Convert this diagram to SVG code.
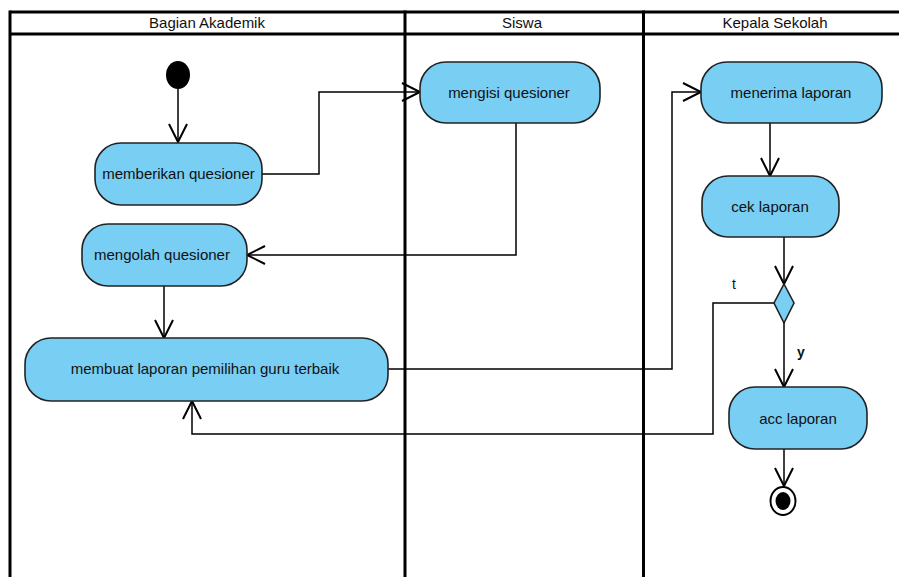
<svg xmlns="http://www.w3.org/2000/svg" width="899" height="577" viewBox="0 0 899 577">
<style>
.lane{stroke:#000;stroke-width:3;fill:none}
.hdr{font-family:"Liberation Sans",Arial,sans-serif;font-size:15px;fill:#111;text-anchor:middle}
.act{fill:#79CEF3;stroke:#222;stroke-width:1.6}
.lbl{font-family:"Liberation Sans",Arial,sans-serif;font-size:15px;fill:#111;text-anchor:middle}
.edge{stroke:#000;stroke-width:1.5;fill:none;marker-end:url(#arr)}
.glbl{font-family:"Liberation Sans",Arial,sans-serif;font-size:14px;fill:#111}
</style>
<defs>
<marker id="arr" markerUnits="userSpaceOnUse" markerWidth="24" markerHeight="24" refX="20" refY="12" orient="auto">
<path d="M2,3 L20,12 L2,21" fill="none" stroke="#000" stroke-width="2"/>
</marker>
</defs>
<rect width="899" height="577" fill="#fff"/>
<g id="swimlanes">
<line class="lane" x1="10" y1="12" x2="899" y2="12"/>
<line class="lane" x1="10" y1="34" x2="899" y2="34"/>
<line class="lane" x1="10" y1="10.5" x2="10" y2="577"/>
<line class="lane" x1="405" y1="10.5" x2="405" y2="577"/>
<line class="lane" x1="643.5" y1="10.5" x2="643.5" y2="577"/>
<text class="hdr" x="207" y="28">Bagian Akademik</text>
<text class="hdr" x="522" y="28">Siswa</text>
<text class="hdr" x="775" y="28">Kepala Sekolah</text>
</g>
<g id="connectors">
<line class="edge" x1="178" y1="89" x2="178" y2="142"/>
<polyline class="edge" points="262,174 319,174 319,92 420,92"/>
<polyline class="edge" points="516,123 516,255 247,255"/>
<line class="edge" x1="164" y1="286" x2="164" y2="338"/>
<polyline class="edge" points="388,369 672,369 672,92 701,92"/>
<line class="edge" x1="770" y1="123" x2="770" y2="176"/>
<line class="edge" x1="784" y1="237" x2="784" y2="284"/>
<polyline class="edge" points="774,303 713,303 713,434 192,434 192,401"/>
<line class="edge" x1="784" y1="323" x2="784" y2="387"/>
<line class="edge" x1="784" y1="449" x2="784" y2="486"/>
<text class="glbl" x="732" y="289">t</text>
<text class="glbl" x="797" y="357" font-weight="bold">y</text>
</g>
<g id="start">
<ellipse cx="178" cy="75" rx="12" ry="14" fill="#000"/>
</g>
<g id="memberikan">
<rect class="act" x="95" y="143" width="167" height="62" rx="26"/>
<text class="lbl" x="178.5" y="179">memberikan quesioner</text>
</g>
<g id="mengisi">
<rect class="act" x="420" y="62" width="180" height="61" rx="26"/>
<text class="lbl" x="509" y="98">mengisi quesioner</text>
</g>
<g id="mengolah">
<rect class="act" x="82" y="224" width="165" height="62" rx="26"/>
<text class="lbl" x="162" y="260">mengolah quesioner</text>
</g>
<g id="membuat">
<rect class="act" x="25" y="338" width="363" height="63" rx="26"/>
<text class="lbl" x="205" y="374">membuat laporan pemilihan guru terbaik</text>
</g>
<g id="menerima">
<rect class="act" x="701" y="62" width="181" height="61" rx="26"/>
<text class="lbl" x="791" y="98">menerima laporan</text>
</g>
<g id="cek">
<rect class="act" x="702" y="176" width="137" height="61" rx="26"/>
<text class="lbl" x="770" y="212">cek laporan</text>
</g>
<g id="decision">
<polygon class="act" points="784,284 794,303 784,323 774,303"/>
</g>
<g id="acc">
<rect class="act" x="729" y="387" width="138" height="62" rx="26"/>
<text class="lbl" x="798" y="424">acc laporan</text>
</g>
<g id="end">
<ellipse cx="783" cy="501" rx="12.5" ry="14" fill="#fff" stroke="#000" stroke-width="2"/>
<ellipse cx="783" cy="501" rx="7.5" ry="9" fill="#000"/>
</g>
</svg>
